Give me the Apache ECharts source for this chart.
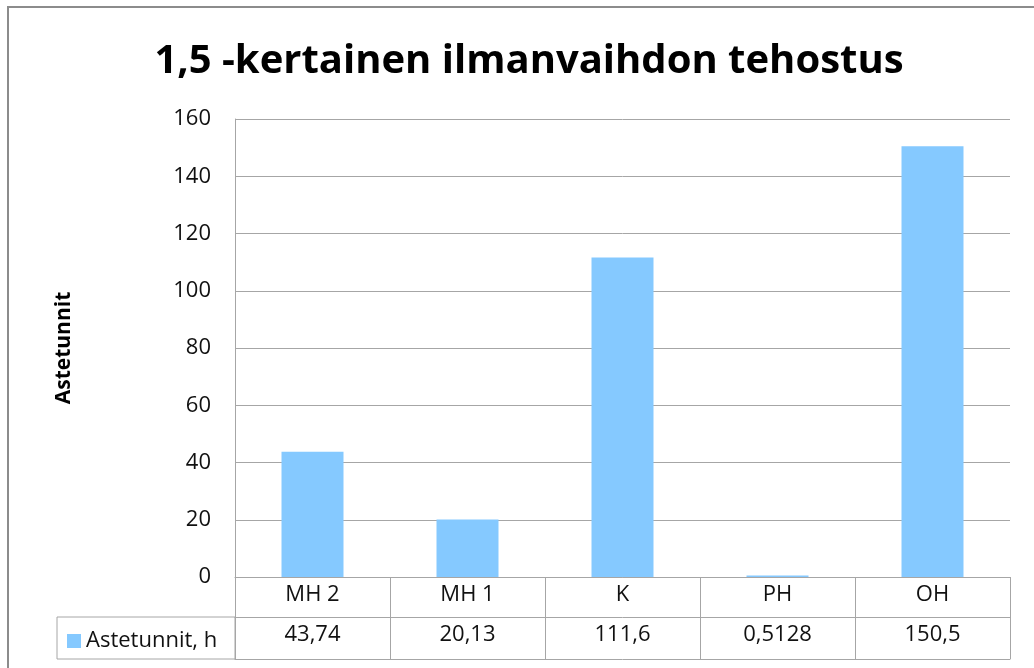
<!DOCTYPE html>
<html>
<head>
<meta charset="utf-8">
<script src="https://cdn.jsdelivr.net/npm/echarts@6/dist/echarts.min.js"></script>
<style>
	html, body { margin: 0; padding: 0; background: #fff; }
	#chart { width: 1034px; height: 668px; }
</style>
</head>
<body>
<div id="chart"></div>
<script>
// data
const categories = ['MH 2', 'MH 1', 'K', 'PH', 'OH']
const seriesName = 'Astetunnit, h'
const values = [43.74, 20.13, 111.6, 0.5128, 150.5]
const yTicks = [0, 20, 40, 60, 80, 100, 120, 140, 160]

const font = 'Open Sans'
const lineGray = '#a6a6a6'
const barColor = '#85c9ff'

// arvot taulukkoon suomalaisella desimaalipilkulla
const tableLabels = values.map((v) => String(v).replace('.', ','))

const myChart = echarts.init(document.getElementById('chart'))

let option = {
	animation: false,
	textStyle: { fontFamily: font },
	title: {
		text: '1,5 -kertainen ilmanvaihdon tehostus',
		left: 524,
		textAlign: 'center',
		top: 37,
		textStyle: { fontSize: 40, fontWeight: 'bold', color: '#000', fontFamily: font },
	},
	legend: {
		data: [seriesName],
		left: 62,
		top: 625,
		icon: 'rect',
		itemWidth: 14,
		itemHeight: 14,
		itemGap: 6,
		textStyle: { fontSize: 22, color: '#111', fontFamily: font },
	},
	grid: { left: 235, right: 24, top: 119, bottom: 91 },
	xAxis: [
		{
			type: 'category',
			data: categories,
			axisLine: { show: true, lineStyle: { color: lineGray } },
			axisTick: { show: true, interval: 0, length: 82, lineStyle: { color: lineGray } },
			axisLabel: { interval: 0, margin: 7, fontSize: 22, color: '#111' },
		},
		{
			type: 'category',
			position: 'bottom',
			offset: 40,
			data: tableLabels,
			axisLine: { show: true, lineStyle: { color: lineGray } },
			axisTick: { show: false },
			axisLabel: { interval: 0, margin: 7, fontSize: 22, color: '#111' },
		},
		{
			type: 'category',
			position: 'bottom',
			offset: 82,
			data: categories,
			axisLine: { show: true, lineStyle: { color: lineGray } },
			axisTick: { show: false },
			axisLabel: { show: false },
		},
	],
	yAxis: {
		type: 'value',
		min: yTicks[0],
		max: yTicks[yTicks.length - 1],
		interval: 20,
		name: 'Astetunnit',
		nameLocation: 'middle',
		nameRotate: 90,
		nameGap: 160,
		nameTextStyle: { fontSize: 21, fontWeight: 'bold', color: '#000' },
		axisLine: { show: true, lineStyle: { color: lineGray } },
		axisTick: { show: false },
		axisLabel: { fontSize: 22, color: '#111', margin: 24 },
		splitLine: { show: true, lineStyle: { color: lineGray } },
	},
	series: [
		{
			name: seriesName,
			type: 'bar',
			data: values,
			barWidth: '40%',
			itemStyle: { color: barColor },
		},
	],
	graphic: [
		// taulukon vasen sarake
		{
			type: 'rect',
			shape: { x: 57, y: 617, width: 178, height: 42 },
			style: { fill: 'none', stroke: lineGray, lineWidth: 1 },
		},
		// kaavion reunus
		{
			type: 'polyline',
			shape: { points: [[8, 700], [8, 7], [1040, 7]] },
			style: { fill: 'none', stroke: '#8c8c8c', lineWidth: 2 },
		},
	],
}
myChart.setOption(option)
</script>
</body>
</html>
